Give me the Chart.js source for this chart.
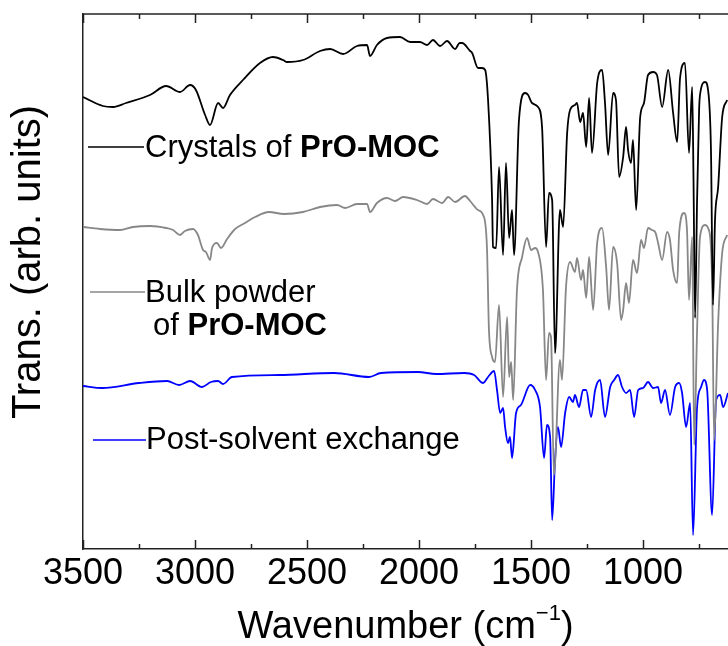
<!DOCTYPE html>
<html>
<head>
<meta charset="utf-8">
<script src="https://cdn.jsdelivr.net/npm/chart.js"></script>
<style>
  html, body { margin: 0; padding: 0; background: #fff; }
  #wrap { width: 728px; height: 646px; }
</style>
</head>
<body>
<div id="wrap"><canvas id="ir" width="728" height="646"></canvas></div>
<script>
// FTIR spectra: wavenumber (cm-1) and transmittance (arb. units, offset traces)
const crystalsWn = [3500, 3411, 3366, 3308, 3201, 3129, 3067, 3022, 2996, 2955, 2933, 2897, 2875, 2844, 2786, 2710, 2652, 2607, 2589, 2518, 2442, 2397, 2339, 2277, 2232, 2219, 2188, 2143, 2085, 2040, 1996, 1964, 1938, 1906, 1875, 1839, 1819, 1808, 1772, 1763, 1737, 1719, 1705, 1692, 1674, 1670, 1656, 1643, 1625, 1612, 1598, 1585, 1576, 1554, 1527, 1513, 1496, 1469, 1451, 1433, 1420, 1406, 1393, 1371, 1357, 1339, 1326, 1304, 1295, 1281, 1268, 1254, 1241, 1228, 1205, 1183, 1170, 1156, 1134, 1121, 1107, 1089, 1076, 1067, 1054, 1045, 1031, 1013, 996, 978, 955, 938, 915, 888, 866, 848, 835, 813, 795, 781, 775, 768, 759, 750, 746, 723, 710, 697, 688, 679, 665, 647, 625];
const crystalsT = [452, 443, 442, 446, 454, 463, 457, 464, 459, 434, 424, 446, 441, 454, 469, 486, 492, 489, 487, 489, 498, 500, 495, 503, 504, 493, 504, 511, 512, 507, 507, 504, 509, 503, 508, 500, 506, 506, 498, 496, 481, 481, 479, 449, 349, 302, 301, 382, 294, 386, 311, 339, 294, 429, 456, 454, 446, 442, 422, 302, 356, 349, 196, 339, 322, 416, 439, 444, 446, 427, 436, 402, 451, 396, 466, 479, 446, 394, 456, 449, 372, 392, 422, 399, 386, 409, 339, 432, 446, 474, 477, 474, 442, 479, 436, 407, 471, 486, 396, 462, 370, 231, 349, 439, 454, 467, 459, 399, 244, 329, 362, 432, 449];

const bulkWn = [3500, 3424, 3335, 3277, 3201, 3129, 3098, 3067, 3045, 3009, 2987, 2964, 2951, 2933, 2924, 2902, 2884, 2857, 2821, 2777, 2732, 2670, 2603, 2518, 2442, 2366, 2330, 2277, 2232, 2219, 2188, 2143, 2107, 2071, 2009, 1964, 1938, 1897, 1870, 1839, 1795, 1772, 1737, 1714, 1697, 1688, 1674, 1661, 1643, 1625, 1607, 1598, 1589, 1580, 1563, 1540, 1518, 1500, 1482, 1469, 1447, 1433, 1420, 1411, 1398, 1371, 1362, 1344, 1326, 1304, 1295, 1277, 1268, 1254, 1241, 1223, 1205, 1183, 1165, 1152, 1134, 1116, 1098, 1089, 1076, 1063, 1045, 1027, 1009, 996, 978, 960, 946, 933, 915, 893, 880, 866, 848, 839, 817, 804, 795, 781, 772, 759, 746, 723, 710, 692, 683, 665, 647, 625];
const bulkT = [322, 320, 319, 322, 323, 321, 319, 314, 318, 320, 314, 299, 297, 289, 301, 306, 301, 310, 320, 326, 332, 337, 335, 337, 342, 344, 341, 345, 345, 337, 346, 351, 348, 352, 349, 345, 350, 346, 352, 347, 353, 348, 339, 334, 302, 219, 192, 187, 244, 152, 232, 172, 187, 149, 259, 292, 311, 299, 301, 297, 259, 169, 216, 212, 74, 189, 169, 262, 287, 277, 291, 269, 279, 251, 292, 239, 306, 321, 282, 239, 302, 286, 229, 239, 266, 246, 289, 276, 309, 301, 321, 319, 317, 306, 289, 317, 309, 279, 266, 316, 336, 319, 249, 312, 104, 219, 312, 324, 321, 269, 109, 226, 296, 314];

const postWn = [3500, 3415, 3250, 3125, 3071, 3022, 2969, 2929, 2897, 2875, 2835, 2625, 2379, 2223, 2170, 2005, 1924, 1799, 1754, 1714, 1692, 1665, 1652, 1638, 1625, 1616, 1603, 1594, 1585, 1567, 1545, 1504, 1482, 1460, 1442, 1429, 1415, 1406, 1393, 1380, 1366, 1348, 1330, 1313, 1304, 1286, 1268, 1254, 1232, 1214, 1192, 1170, 1147, 1129, 1112, 1094, 1076, 1058, 1040, 1022, 1000, 978, 955, 933, 920, 902, 880, 857, 839, 826, 808, 790, 777, 759, 741, 728, 714, 692, 674, 656, 643, 621];
const postT = [163, 161, 166, 168, 164, 168, 162, 167, 168, 165, 172, 174, 176, 172, 176, 177, 175, 176, 174, 166, 172, 178, 159, 136, 141, 122, 106, 112, 91, 136, 144, 164, 159, 142, 91, 124, 112, 29, 89, 122, 102, 136, 152, 147, 154, 142, 159, 159, 132, 159, 169, 132, 162, 169, 174, 162, 156, 159, 132, 159, 161, 167, 161, 162, 146, 159, 134, 162, 166, 156, 122, 146, 14, 142, 162, 169, 159, 34, 149, 154, 142, 156];

const seriesColors = ['#000000', '#878787', '#0000ff'];
const xTicks = [3500, 3000, 2500, 2000, 1500, 1000];
const xMin = 621, xMax = 3500;

const FONT = '"Liberation Sans", Arial, sans-serif';

function pairs(wn, t) {
  return wn.map((w, i) => ({ x: w, y: t[i] }));
}

function drawParts(ctx, parts, x, y, size) {
  for (const [t, bold] of parts) {
    ctx.font = (bold ? 'bold ' : '') + size + 'px ' + FONT;
    ctx.fillText(t, x, y);
    x += ctx.measureText(t).width;
  }
}

// frame on top, inward ticks, axis titles and the in-plot labels
const decorations = {
  id: 'decorations',
  afterDraw(chart) {
    const { ctx, chartArea: a, scales: { x } } = chart;
    ctx.save();
    ctx.strokeStyle = '#222';
    ctx.lineWidth = 1.5;
    ctx.beginPath();
    ctx.moveTo(a.left, a.top);
    ctx.lineTo(a.right, a.top);
    ctx.stroke();
    for (let v = xMax; v >= xMin; v -= 250) {
      const px = Math.round(x.getPixelForValue(v)) + 0.5;
      const len = v % 500 === 0 ? 9 : 5;
      ctx.beginPath();
      ctx.moveTo(px, a.bottom);
      ctx.lineTo(px, a.bottom - len);
      ctx.moveTo(px, a.top);
      ctx.lineTo(px, a.top + len);
      ctx.stroke();
    }

    // legend-like labels next to each trace
    ctx.lineWidth = 1.6;
    const legend = [
      { c: seriesColors[0], x0: 88, x1: 144, ly: 147, lines: [[[['Crystals of ', false], ['PrO-MOC', true]], 145, 157]] },
      { c: seriesColors[1], x0: 90, x1: 145, ly: 292, lines: [[[['Bulk powder', false]], 145, 302], [[['of ', false], ['PrO-MOC', true]], 153, 335]] },
      { c: seriesColors[2], x0: 93, x1: 146, ly: 440, lines: [[[['Post-solvent exchange', false]], 146, 449]] }
    ];
    ctx.fillStyle = '#000';
    ctx.textBaseline = 'alphabetic';
    ctx.textAlign = 'left';
    for (const l of legend) {
      ctx.strokeStyle = l.c;
      ctx.beginPath();
      ctx.moveTo(l.x0, l.ly);
      ctx.lineTo(l.x1, l.ly);
      ctx.stroke();
      for (const [parts, tx, ty] of l.lines) drawParts(ctx, parts, tx, ty, 31);
    }

    // x title with superscript
    const main = 'Wavenumber (cm', sup = '\u22121', close = ')';
    ctx.font = '38px ' + FONT;
    const w1 = ctx.measureText(main).width, w3 = ctx.measureText(close).width;
    ctx.font = '22px ' + FONT;
    const w2 = ctx.measureText(sup).width;
    let tx = (a.left + a.right) / 2 - (w1 + w2 + w3) / 2;
    ctx.font = '38px ' + FONT;
    ctx.fillText(main, tx, 638);
    tx += w1;
    ctx.font = '22px ' + FONT;
    ctx.fillText(sup, tx, 620);
    tx += w2;
    ctx.font = '38px ' + FONT;
    ctx.fillText(close, tx, 638);

    // y title
    ctx.translate(29, 262);
    ctx.rotate(-Math.PI / 2);
    ctx.textAlign = 'center';
    ctx.textBaseline = 'middle';
    ctx.font = '40px ' + FONT;
    ctx.fillText('Trans. (arb. units)', 0, 0);
    ctx.restore();
  }
};

const line = (data, color) => ({
  data,
  borderColor: color,
  borderWidth: 1.8,
  pointRadius: 0,
  fill: false,
  cubicInterpolationMode: 'monotone'
});

new Chart(document.getElementById('ir'), {
  type: 'line',
  data: {
    datasets: [
      line(pairs(crystalsWn, crystalsT), seriesColors[0]),
      line(pairs(bulkWn, bulkT), seriesColors[1]),
      line(pairs(postWn, postT), seriesColors[2])
    ]
  },
  options: {
    responsive: false,
    animation: false,
    layout: { padding: { top: 14, right: 0, left: 0, bottom: 0 } },
    plugins: { legend: { display: false }, tooltip: { enabled: false } },
    scales: {
      x: {
        type: 'linear',
        reverse: true,
        min: xMin,
        max: xMax,
        grid: { display: false, drawTicks: false },
        border: { display: true, color: '#222', width: 1.5 },
        ticks: {
          color: '#000',
          font: { family: FONT, size: 36 },
          padding: 3,
          maxRotation: 0,
          autoSkip: false,
          callback: v => String(v)
        },
        afterBuildTicks: s => { s.ticks = xTicks.map(v => ({ value: v })); },
        afterFit: s => { s.height = 97; }
      },
      y: {
        min: 0,
        max: 535,
        grid: { display: false, drawTicks: false },
        border: { display: true, color: '#222', width: 1.5 },
        ticks: { display: false },
        afterFit: s => { s.width = 83; }
      }
    }
  },
  plugins: [decorations]
});
</script>
</body>
</html>
